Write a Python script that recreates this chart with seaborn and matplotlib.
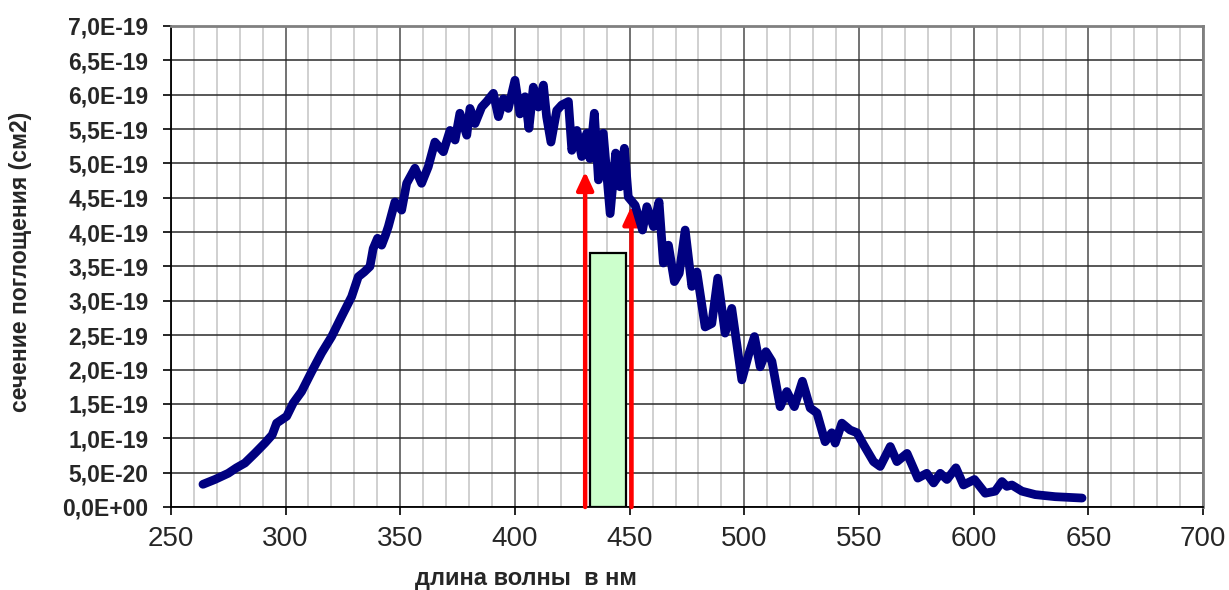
import numpy as np
import pandas as pd
import matplotlib
matplotlib.use("Agg")
import matplotlib.pyplot as plt
from matplotlib.ticker import MultipleLocator, FixedLocator, FuncFormatter
import seaborn as sns

# NO2 absorption cross-section spectrum (values in units of 1e-19 cm2)
wavelength_nm = [
    264.0, 269.2, 275.0, 278.6, 282.3, 286.6, 291.0, 294.2, 296.1, 300.5,
    303.3, 307.0, 311.4, 315.7, 320.1, 324.4, 328.8, 331.7, 334.3, 336.8,
    338.2, 340.1, 341.9, 343.5, 344.8, 347.7, 350.6, 352.8, 356.4, 359.3,
    362.2, 365.1, 368.8, 371.7, 373.9, 376.0, 379.0, 380.4, 382.6, 385.5,
    387.7, 390.6, 392.8, 395.0, 397.1, 400.0, 402.2, 404.4, 406.1, 408.0,
    410.2, 412.4, 413.8, 415.7, 418.2, 420.4, 423.3, 424.8, 427.0, 429.1,
    431.3, 432.7, 434.6, 436.4, 438.5, 441.5, 443.9, 445.8, 447.7, 449.4,
    452.4, 455.6, 457.5, 460.4, 462.8, 464.7, 466.9, 469.5, 471.6, 474.2,
    477.1, 479.3, 482.9, 485.8, 488.4, 491.6, 494.5, 498.9, 501.8, 504.4,
    506.9, 509.4, 512.0, 515.6, 518.5, 521.8, 525.3, 528.7, 531.6, 535.2,
    538.1, 539.6, 542.5, 546.1, 549.1, 551.9, 556.3, 559.2, 563.6, 566.5,
    570.9, 575.6, 579.5, 582.5, 585.4, 588.3, 592.2, 595.5, 600.3, 605.0,
    609.3, 612.3, 614.4, 616.6, 621.0, 626.8, 635.5, 647.2,
]
cross_section_e19 = [
    0.33, 0.40, 0.49, 0.57, 0.64, 0.78, 0.93, 1.05, 1.22, 1.32,
    1.51, 1.68, 1.97, 2.24, 2.48, 2.77, 3.06, 3.35, 3.42, 3.50,
    3.76, 3.91, 3.81, 3.95, 4.08, 4.44, 4.32, 4.71, 4.93, 4.71,
    4.95, 5.31, 5.17, 5.48, 5.34, 5.73, 5.41, 5.80, 5.58, 5.82,
    5.90, 6.02, 5.68, 5.94, 5.80, 6.21, 5.72, 5.97, 5.51, 6.11,
    5.82, 6.14, 5.68, 5.31, 5.77, 5.85, 5.90, 5.19, 5.48, 5.10,
    5.44, 5.07, 5.73, 4.76, 5.44, 4.27, 5.15, 4.66, 5.22, 4.51,
    4.39, 4.03, 4.37, 4.08, 4.44, 3.55, 3.81, 3.28, 3.40, 4.03,
    3.21, 3.42, 2.62, 2.67, 3.33, 2.53, 2.89, 1.85, 2.21, 2.48,
    2.04, 2.26, 2.12, 1.46, 1.68, 1.46, 1.83, 1.44, 1.37, 0.95,
    1.08, 0.93, 1.22, 1.12, 1.08, 0.91, 0.66, 0.59, 0.88, 0.66,
    0.78, 0.42, 0.49, 0.35, 0.49, 0.40, 0.57, 0.32, 0.40, 0.20,
    0.23, 0.37, 0.30, 0.32, 0.23, 0.18, 0.15, 0.13,
]

# Laser band (green box) and the two marked lines (red arrows)
band_left_nm = 432.7
band_right_nm = 448.4
band_height_e19 = 3.69
arrow_nm = [430.6, 450.8]
arrow_top_e19 = [4.88, 4.38]

x_ticks = [250, 300, 350, 400, 450, 500, 550, 600, 650, 700]
y_ticks_e19 = [0.0, 0.5, 1.0, 1.5, 2.0, 2.5, 3.0, 3.5, 4.0, 4.5, 5.0, 5.5,
               6.0, 6.5, 7.0]

df = pd.DataFrame({
    "wl": wavelength_nm,
    "sigma": np.array(cross_section_e19) * 1e-19,
})

sns.set_theme(style="white")
plt.rcParams["font.family"] = ["Liberation Sans", "DejaVu Sans"]

fig = plt.figure(figsize=(12.29, 5.90), dpi=100)
ax = fig.add_axes([0.139, 0.1407, 0.840, 0.8153])

# grid: light minor verticals every 10 nm, darker majors every 50 nm
ax.set_xlim(250, 700)
ax.set_ylim(0, 7e-19)
ax.xaxis.set_major_locator(FixedLocator(x_ticks))
ax.xaxis.set_minor_locator(MultipleLocator(10))
ax.yaxis.set_major_locator(FixedLocator([v * 1e-19 for v in y_ticks_e19]))
ax.grid(which="minor", axis="x", color="#c8c8c8", lw=1.2)
ax.grid(which="major", axis="x", color="#5a5a5a", lw=1.2)
ax.grid(which="major", axis="y", color="#2a2a2a", lw=1.1)
ax.set_axisbelow(True)

# green band box
ax.bar([(band_left_nm + band_right_nm) / 2], [band_height_e19 * 1e-19],
       width=band_right_nm - band_left_nm, color="#ccffcc",
       edgecolor="black", linewidth=1.6, zorder=3)

# red arrows
for xa, ya in zip(arrow_nm, arrow_top_e19):
    ax.annotate("", xy=(xa, ya * 1e-19), xytext=(xa, 0.0),
                arrowprops=dict(arrowstyle="-|>,head_length=0.9,head_width=0.42",
                                color="#ff0000", lw=3.2,
                                shrinkA=0, shrinkB=0),
                zorder=4)

# spectrum
sns.lineplot(data=df, x="wl", y="sigma", ax=ax, color="#000080",
             lw=6.3, sort=False, zorder=5, solid_joinstyle="round",
             solid_capstyle="round")

def excel_sci(v, pos):
    if abs(v) < 1e-30:
        return "0,0E+00"
    exp = int(np.floor(np.log10(abs(v)) + 1e-9))
    mant = v / 10 ** exp
    sign = "+" if exp >= 0 else "-"
    return f"{mant:.1f}".replace(".", ",") + f"E{sign}{abs(exp):02d}"

ax.yaxis.set_major_formatter(FuncFormatter(excel_sci))
ax.xaxis.set_major_formatter(FuncFormatter(lambda v, p: f"{v:.0f}"))

ax.tick_params(axis="y", labelsize=16.5, length=6, width=1.2, color="black",
               direction="out", left=True, pad=10)
ax.tick_params(axis="x", which="major", labelsize=20, length=6, width=1.2,
               color="black", direction="out", bottom=True, pad=8)
ax.tick_params(axis="x", which="minor", bottom=False)
for lab in ax.get_yticklabels():
    lab.set_fontweight("bold")

for side in ["left", "bottom"]:
    ax.spines[side].set_color("black")
    ax.spines[side].set_linewidth(1.3)
for side in ["top", "right"]:
    ax.spines[side].set_color("#808080")
    ax.spines[side].set_linewidth(2)

ax.set_xlabel("длина волны  в нм", fontsize=17, fontweight="bold")
ax.xaxis.label.set_va("center")
ax.xaxis.set_label_coords(0.344, -0.148)
ax.set_ylabel("сечение поглощения (см2)", fontsize=16.5, fontweight="bold")
ax.yaxis.label.set_ha("center")
ax.yaxis.label.set_va("center")
ax.yaxis.set_label_coords(-0.146, 0.509)

fig.savefig("out.png", dpi=100)
